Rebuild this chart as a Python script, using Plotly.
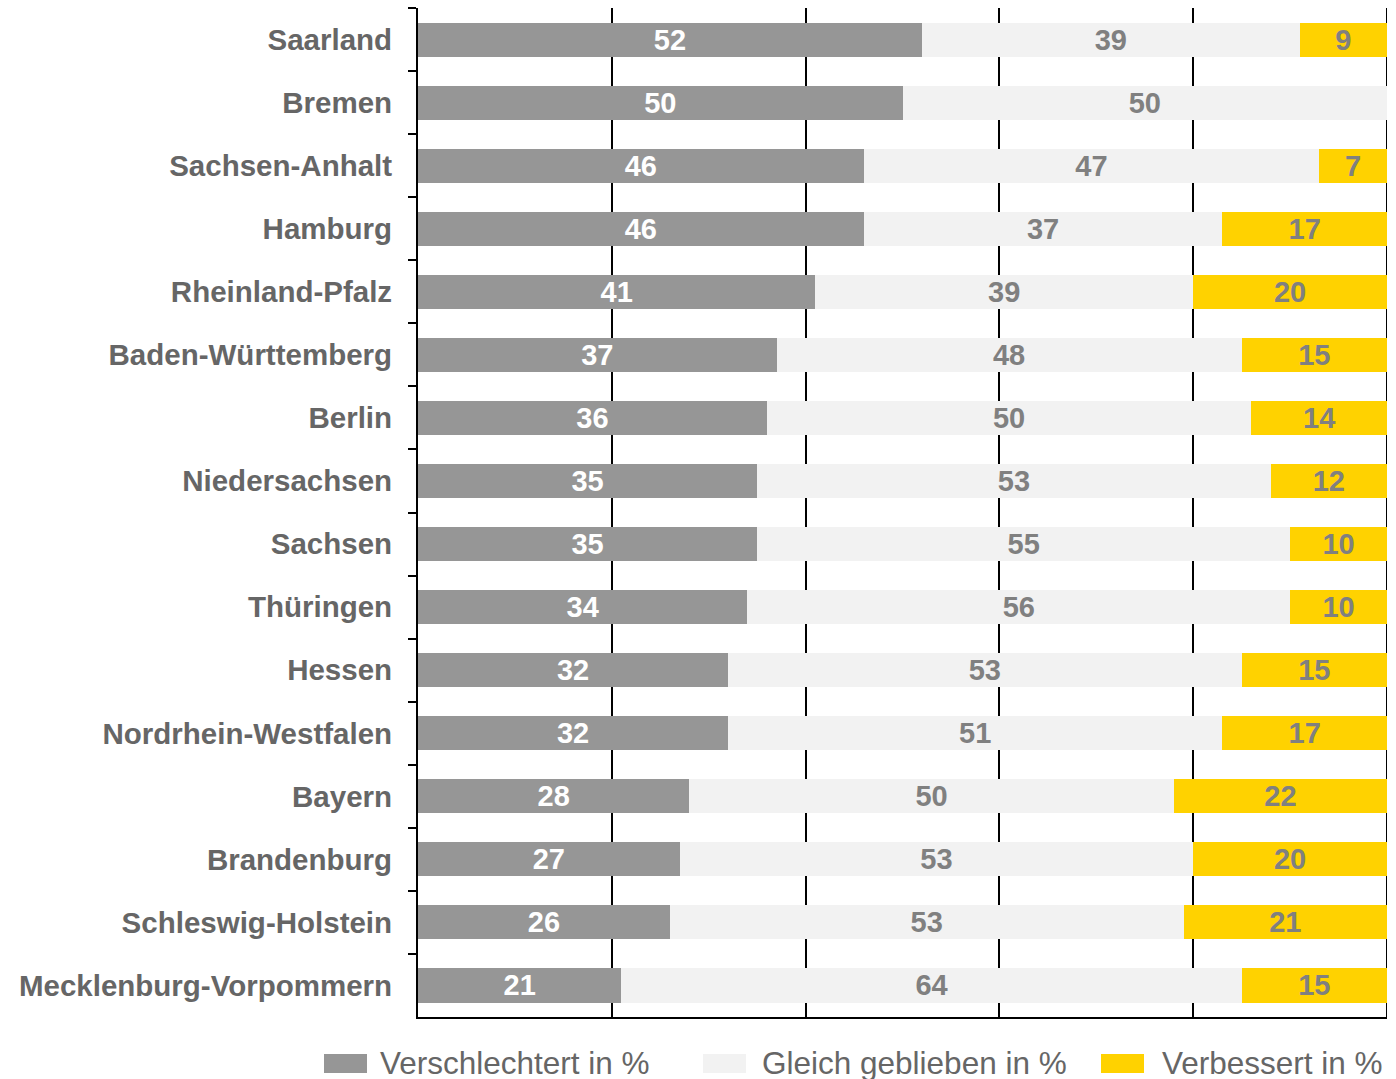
import plotly.graph_objects as go

states = ["Saarland", "Bremen", "Sachsen-Anhalt", "Hamburg", "Rheinland-Pfalz",
          "Baden-Württemberg", "Berlin", "Niedersachsen", "Sachsen", "Thüringen",
          "Hessen", "Nordrhein-Westfalen", "Bayern", "Brandenburg",
          "Schleswig-Holstein", "Mecklenburg-Vorpommern"]
verschlechtert = [52, 50, 46, 46, 41, 37, 36, 35, 35, 34, 32, 32, 28, 27, 26, 21]
gleich = [39, 50, 47, 37, 39, 48, 50, 53, 55, 56, 53, 51, 50, 53, 53, 64]
verbessert = [9, 0, 7, 17, 20, 15, 14, 12, 10, 10, 15, 17, 22, 20, 21, 15]
series_names = ["Verschlechtert in %", "Gleich geblieben in %", "Verbessert in %"]

FONT = "Liberation Sans, Arial, sans-serif"
colors = ["#969696", "#f2f2f2", "#ffd200"]
text_colors = ["#ffffff", "#808080", "#808080"]

W, H = 1396, 1079
L, R, T, B = 418, 9, 8, 62
pw, ph = W - L - R, H - T - B

def px_x(px):
    return (px - L) / pw

def px_y(py):
    return (H - B - py) / ph

fig = go.Figure()
for name, vals, col, tcol in zip(series_names, [verschlechtert, gleich, verbessert], colors, text_colors):
    fig.add_trace(go.Bar(
        y=states, x=vals, orientation="h", name=name,
        marker=dict(color=col, line=dict(width=0)),
        text=[str(v) if v > 0 else "" for v in vals],
        textposition="inside", insidetextanchor="middle",
        textangle=0, constraintext="none",
        textfont=dict(family=FONT, size=29, color=tcol, weight="bold"),
        showlegend=False, hoverinfo="x+y+name",
    ))

# custom legend
legend_boxes = [(324, 367, 378), (703, 746, 760), (1101, 1144, 1160)]
for (x0, x1, xt), name, col in zip(legend_boxes, series_names, colors):
    fig.add_shape(type="rect", xref="paper", yref="paper",
                  x0=px_x(x0), x1=px_x(x1), y0=px_y(1073), y1=px_y(1054),
                  fillcolor=col, line=dict(width=0))
    fig.add_annotation(xref="paper", yref="paper", x=px_x(xt), y=px_y(1063),
                       xanchor="left", yanchor="middle", showarrow=False,
                       text=name, font=dict(family=FONT, size=31.5, color="#666666"))

# right border gridline at 100
fig.add_shape(type="line", xref="x", yref="paper", x0=100, x1=100, y0=0, y1=1,
              line=dict(color="black", width=2), layer="below")

fig.update_layout(
    barmode="stack", bargap=0.46,
    width=W, height=H,
    margin=dict(l=L, r=R, t=T, b=B, autoexpand=False),
    plot_bgcolor="white", paper_bgcolor="white",
    font=dict(family=FONT),
    xaxis=dict(range=[0, 100], dtick=20, showgrid=True, gridcolor="black", gridwidth=2,
               showticklabels=False, zeroline=False, showline=True, linecolor="black",
               linewidth=2, ticks=""),
    yaxis=dict(autorange="reversed", categoryorder="array", categoryarray=states,
               showline=True, linecolor="black", linewidth=2, ticks="outside",
               tickson="boundaries", ticklen=8, tickwidth=2, tickcolor="black",
               ticklabelstandoff=18,
               tickfont=dict(family=FONT, size=29.5, color="#666666", weight="bold"),
               showgrid=False, zeroline=False),
)

fig.write_html("out.html", config={"displayModeBar": False},
               post_script="document.body.style.margin='0';document.body.style.overflow='hidden';")
